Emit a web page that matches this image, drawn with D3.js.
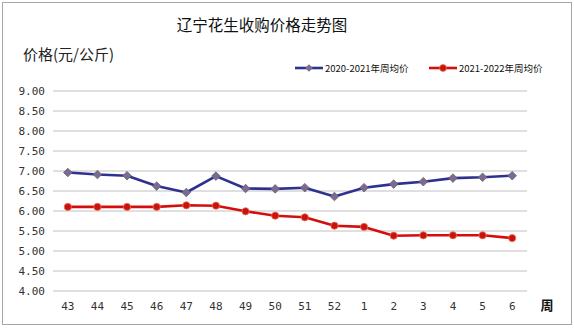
<!DOCTYPE html>
<html>
<head>
<meta charset="utf-8">
<script src="https://cdn.jsdelivr.net/npm/d3@7"></script>
<style>
  html, body { margin: 0; padding: 0; background: #fff; }
  svg { display: block; }
  text { font-family: "Noto Sans CJK SC", "Noto Sans", sans-serif; }
  .num text { font-family: "DejaVu Sans Mono", monospace; }
</style>
</head>
<body>
<svg id="chart" width="574" height="329"></svg>
<script>
// Weekly average purchase price of peanuts in Liaoning (yuan/kg)
const weeks = ["43", "44", "45", "46", "47", "48", "49", "50", "51", "52", "1", "2", "3", "4", "5", "6"];
const season2020 = [6.95, 6.90, 6.87, 6.61, 6.45, 6.86, 6.55, 6.54, 6.57, 6.35, 6.57, 6.66, 6.72, 6.81, 6.83, 6.87];
const season2021 = [6.09, 6.09, 6.09, 6.09, 6.13, 6.12, 5.98, 5.87, 5.83, 5.62, 5.59, 5.37, 5.38, 5.38, 5.38, 5.31];
const yTicks = [4.0, 4.5, 5.0, 5.5, 6.0, 6.5, 7.0, 7.5, 8.0, 8.5, 9.0];
const seriesNames = ["2020-2021年周均价", "2021-2022年周均价"];

const svg = d3.select("#chart");

// outer frame
svg.append("rect")
  .attr("x", 2.5).attr("y", 2.5).attr("width", 569).attr("height", 322)
  .attr("fill", "#fff").attr("stroke", "#a6a6a6").attr("stroke-width", 1);

const plot = { left: 53, right: 527, top: 90.5, bottom: 290.5 };

const x = d3.scaleBand().domain(weeks).range([plot.left, plot.right]);
const y = d3.scaleLinear().domain([4, 9]).range([plot.bottom, plot.top]);

// horizontal gridlines + y tick labels
const yAxis = d3.axisLeft(y).tickValues(yTicks)
  .tickFormat(d3.format(".2f"))
  .tickSize(-(plot.right - plot.left)).tickPadding(8);
const gy = svg.append("g").attr("class", "num")
  .attr("transform", `translate(${plot.left},0)`).call(yAxis);
gy.select(".domain").remove();
gy.selectAll(".tick line").attr("stroke", "#c0c0c0").attr("stroke-width", 1);
gy.selectAll(".tick text").attr("font-size", 11).attr("fill", "#333");

// x tick labels
const xAxis = d3.axisBottom(x).tickSize(0).tickPadding(12);
const gx = svg.append("g").attr("class", "num")
  .attr("transform", `translate(0,${plot.bottom})`).call(xAxis);
gx.select(".domain").remove();
gx.selectAll(".tick text").attr("font-size", 11).attr("fill", "#333");

const cx = d => x(d) + x.bandwidth() / 2;

const line = d3.line().x((d, i) => cx(weeks[i])).y(d => y(d));

// square rhombus marker
const rhombus = r => `M0,${-r}L${r},0L0,${r}L${-r},0Z`;

// 2020-2021 series: navy line, diamond markers
svg.append("path").datum(season2020)
  .attr("d", line).attr("fill", "none")
  .attr("stroke", "#2e318f").attr("stroke-width", 2.6).attr("stroke-linejoin", "round");
svg.append("g").selectAll("path").data(season2020).join("path")
  .attr("d", rhombus(4.3))
  .attr("transform", (d, i) => `translate(${cx(weeks[i])},${y(d)})`)
  .attr("fill", "#7a6c8c").attr("stroke", "#6a5f80").attr("stroke-width", 0.8);

// 2021-2022 series: red line, round markers
svg.append("path").datum(season2021)
  .attr("d", line).attr("fill", "none")
  .attr("stroke", "#d40d0d").attr("stroke-width", 2.6).attr("stroke-linejoin", "round");
svg.append("g").selectAll("circle").data(season2021).join("circle")
  .attr("cx", (d, i) => cx(weeks[i])).attr("cy", d => y(d)).attr("r", 3.6)
  .attr("fill", "#cc1010").attr("stroke", "#e07a50").attr("stroke-width", 0.8);

// titles
svg.append("text").attr("x", 262).attr("y", 31).attr("text-anchor", "middle")
  .attr("font-size", 15.5).attr("fill", "#111").text("辽宁花生收购价格走势图");
svg.append("text").attr("x", 23).attr("y", 60)
  .attr("font-size", 15).attr("fill", "#222").text("价格(元/公斤)");
svg.append("text").attr("x", 547).attr("y", 310).attr("text-anchor", "middle")
  .attr("font-size", 13).attr("font-weight", "bold").attr("fill", "#111").text("周");

// legend
const legend = svg.append("g");
const legendItems = [
  { name: seriesNames[0], x0: 295, color: "#2e318f", marker: "diamond", fill: "#7a6c8c" },
  { name: seriesNames[1], x0: 429, color: "#d40d0d", marker: "circle", fill: "#cc1010" }
];
legendItems.forEach(it => {
  const ly = 68;
  legend.append("line").attr("x1", it.x0).attr("x2", it.x0 + 28)
    .attr("y1", ly).attr("y2", ly).attr("stroke", it.color).attr("stroke-width", 2.6);
  if (it.marker === "diamond") {
    legend.append("path").attr("d", rhombus(3.8))
      .attr("transform", `translate(${it.x0 + 14},${ly})`).attr("fill", it.fill);
  } else {
    legend.append("circle").attr("cx", it.x0 + 14).attr("cy", ly).attr("r", 3.4)
      .attr("fill", it.fill).attr("stroke", "#e07a50").attr("stroke-width", 0.8);
  }
  legend.append("text").attr("x", it.x0 + 30).attr("y", ly + 3.5)
    .attr("font-size", 9.5).attr("fill", "#111").text(it.name);
});
</script>
</body>
</html>
